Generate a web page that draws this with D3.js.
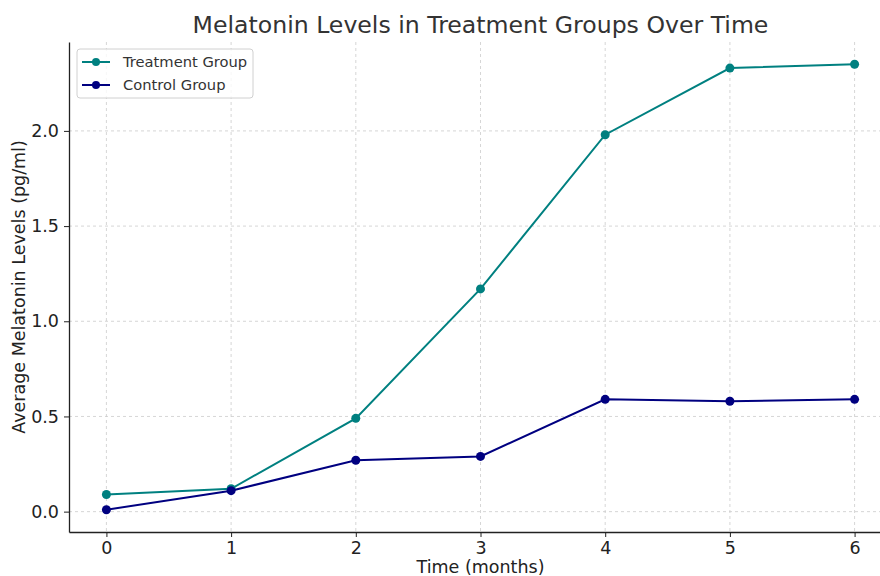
<!DOCTYPE html>
<html><head><meta charset="utf-8">
<script src="https://cdn.jsdelivr.net/npm/d3@7"></script>
<style>body{margin:0;background:#fff}svg{display:block;font-family:"DejaVu Sans",sans-serif}</style>
</head><body><svg id="c" width="880" height="576"></svg>
<script>
const months = [0, 1, 2, 3, 4, 5, 6];
const treatment = [0.09, 0.12, 0.49, 1.17, 1.98, 2.33, 2.35];
const control = [0.01, 0.11, 0.27, 0.29, 0.59, 0.58, 0.59];
const yTicks = [0.0, 0.5, 1.0, 1.5, 2.0];
const seriesNames = ["Treatment Group", "Control Group"];
const seriesColors = ["#008080", "#000080"];

const svg = d3.select("#c");
const L = 69, R = 892, T = 42, B = 532;
const x = d3.scaleLinear().domain([-0.3, 6.3]).range([L, R]);
const y = d3.scaleLinear().domain([-0.107, 2.467]).range([B, T]);

// grid
const g = svg.append("g");
g.selectAll(".gx").data(months).enter().append("line")
  .attr("x1", d => x(d)).attr("x2", d => x(d)).attr("y1", T).attr("y2", B)
  .attr("stroke", "#cccccc").attr("stroke-width", 0.8).attr("stroke-dasharray", "3,3");
g.selectAll(".gy").data(yTicks).enter().append("line")
  .attr("x1", L).attr("x2", R).attr("y1", d => y(d)).attr("y2", d => y(d))
  .attr("stroke", "#cccccc").attr("stroke-width", 0.8).attr("stroke-dasharray", "3,3");

// axes
const xAxis = svg.append("g").attr("transform", `translate(0,${B})`)
  .call(d3.axisBottom(x).tickValues(months).tickFormat(d3.format("d")).tickSize(5).tickSizeOuter(0).tickPadding(5));
const yAxis = svg.append("g").attr("transform", `translate(${L},0)`)
  .call(d3.axisLeft(y).tickValues(yTicks).tickFormat(d3.format(".1f")).tickSize(5).tickSizeOuter(0).tickPadding(5));
[xAxis, yAxis].forEach(a => {
  a.select(".domain").attr("stroke", "#222").attr("stroke-width", 1.3);
  a.selectAll(".tick line").attr("stroke", "#222").attr("stroke-width", 1);
  a.selectAll(".tick text").attr("fill", "#222").style("font-size", "17.5px").style("font-family", "DejaVu Sans");
});

// lines
const data = [treatment, control];
data.forEach((vals, i) => {
  const pts = months.map((m, j) => [m, vals[j]]);
  svg.append("path").datum(pts)
    .attr("fill", "none").attr("stroke", seriesColors[i]).attr("stroke-width", 2)
    .attr("d", d3.line().x(d => x(d[0])).y(d => y(d[1])));
  svg.selectAll(null).data(pts).enter().append("circle")
    .attr("cx", d => x(d[0])).attr("cy", d => y(d[1])).attr("r", 4.5)
    .attr("fill", seriesColors[i]);
});

// title & labels
svg.append("text").attr("x", (L + R) / 2).attr("y", 33).attr("text-anchor", "middle")
  .attr("fill", "#333").style("font-size", "23.6px").text("Melatonin Levels in Treatment Groups Over Time");
svg.append("text").attr("x", (L + R) / 2).attr("y", 573).attr("text-anchor", "middle")
  .attr("fill", "#222").style("font-size", "17.5px").text("Time (months)");
svg.append("text").attr("transform", `translate(25,${(T + B) / 2}) rotate(-90)`).attr("text-anchor", "middle")
  .attr("fill", "#222").style("font-size", "17.5px").text("Average Melatonin Levels (pg/ml)");

// legend
const lg = svg.append("g").attr("transform", "translate(77,49)");
lg.append("rect").attr("width", 176).attr("height", 49).attr("rx", 3)
  .attr("fill", "#fff").attr("fill-opacity", 0.8).attr("stroke", "#d0d0d0");
seriesNames.forEach((n, i) => {
  const yy = 13 + i * 23;
  lg.append("line").attr("x1", 5).attr("x2", 33).attr("y1", yy).attr("y2", yy)
    .attr("stroke", seriesColors[i]).attr("stroke-width", 2);
  lg.append("circle").attr("cx", 19).attr("cy", yy).attr("r", 4).attr("fill", seriesColors[i]);
  lg.append("text").attr("x", 46).attr("y", yy + 5).attr("fill", "#333")
    .style("font-size", "14.7px").text(n);
});
</script></body></html>
